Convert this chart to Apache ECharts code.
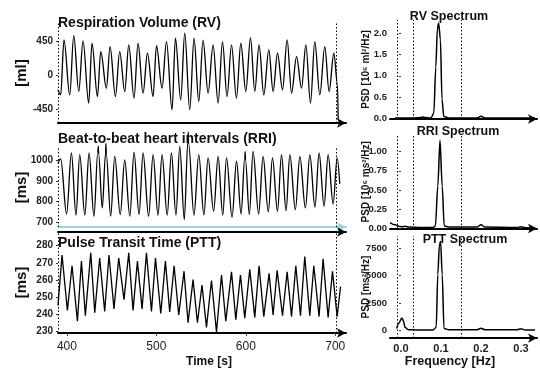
<!DOCTYPE html>
<html><head><meta charset="utf-8">
<script src="https://cdn.jsdelivr.net/npm/echarts@6/dist/echarts.min.js"></script>
<style>html,body{margin:0;padding:0;background:#fff}#c{width:540px;height:369px}</style>
</head><body><div id="c"></div>
<script>
// ---- data ----
const rvTime = [390,393.0,396.7,403.1,407.6,413.2,418.0,424.3,428.0,434.1,437.8,444.1,448.2,454.2,459.0,464.6,469.1,475.0,479.5,485.1,490.0,496.3,500.1,506.3,511.3,517.5,521.3,527.2,531.7,537.3,542.1,547.4,552.2,557.8,563.4,569.0,573.9,579.0,584.0,589.5,594.4,600.0,605.2,610.0,614.8,620.1,625.7,630.5,635.4,641.0,646.2,651.1,656.7,662.3,667.1,672.3,677.1,682.7,688.3,693.1,698.4,702.5,703.2];
const rvValue = [-187,-253,472,-253,528,-209,458,-362,428,-275,318,-165,383,-275,318,-209,405,-297,428,-231,296,-275,397,-165,450,-451,494,-319,560,-451,494,-341,470,-231,405,-362,450,-275,405,-297,428,-209,502,-209,405,-253,340,-209,296,-187,472,-231,252,-165,405,-362,450,-253,383,-209,296,-120,-580];

const rriTime = [390,393,399.6,405,410.1,414.3,420,424.7,430.2,434.5,435,435.4,439.5,443.2,443.6,444,448.9,453.4,459.6,464.6,470.3,475,480.6,485.1,491.3,496.3,501.8,506.3,512.1,516.8,521.9,526.1,531.2,535.2,535.6,536,542,547.4,553.1,557.8,564,569,574.2,578.4,584.6,589.6,594.7,598.8,599.3,599.6,603.9,608.1,614.3,619.3,625.1,629.8,635.4,639.9,645,649.2,655.4,660.4,666.6,671.6,677.3,681.9,687.5,692,697.6,702.1,705];
const rriValue = [985,1006,740,1034,734,1026,734,1034,729,1036,1067,1030,769,1032,1080,1025,729,1018,737,1001,729,1038,737,1034,729,1026,734,1026,734,1034,734,1066,713,1088,1136,1080,734,1026,735,1010,753,1018,734,1010,724,994,740,1010,1040,1000,737,1042,740,1018,750,1010,753,1026,756,1026,761,1018,769,1026,773,1034,777,1026,788,1010,885];

const pttTime = [390,394.5,400.5,405.7,411.7,416.2,420.6,426.6,431.1,436.6,442.2,447.0,452.6,457.9,463.8,469.1,473.9,478.8,484.0,488.9,494.5,499.0,504.9,510.1,514.9,519.8,525.0,530.9,535.4,541.0,545.9,551.0,556.0,561.6,567.2,572.8,577.6,584.0,588.8,594.0,598.8,604.4,610.0,614.8,620.1,626.0,630.5,635.0,641.0,646.2,651.1,655.9,661.1,665.9,671.5,676.0,681.9,686.4,692.0,696.9,702.1,705.9];
const pttValue = [245,274.6,242.2,268.3,235.9,271,239.1,275.9,240.9,272.8,241.6,274.6,243.1,272.8,248.5,275.9,242.2,271,243.1,275.9,241.6,272.8,240.4,271,241.3,268.3,239.5,265.1,235,260.2,235,257,232.3,259.7,229.6,262.9,235.9,264.7,236.8,262.9,237.7,266.2,238.1,268.3,238.6,263.8,239.5,265.6,239.1,264.7,238.6,268.3,239.1,273.7,239.1,268.3,238.6,272.3,238.1,265.1,238.6,256.1];

const rvFreq = [-0.015,0.0,0.03,0.05,0.055,0.06,0.075,0.082,0.087,0.091,0.094,0.0985,0.1025,0.107,0.12,0.19,0.2,0.21,0.25,0.335];
const rvPsd  = [0.005,0.006,0.01,0.02,0.03,0.02,0.01,0.12,1.2,2.1,2.24,1.85,0.45,0.04,0.01,0.01,0.05,0.01,0.008,0.008];
const rriFreq = [-0.0275,-0.015,-0.005,0.002,0.01,0.02,0.05,0.08,0.086,0.092,0.0975,0.103,0.108,0.12,0.19,0.2,0.21,0.29,0.3,0.31,0.335];
const rriPsd  = [0.075,0.045,0.025,0.02,0.025,0.015,0.01,0.01,0.03,0.55,1.15,0.55,0.03,0.015,0.015,0.045,0.015,0.01,0.02,0.008,0.005];
const pttFreq = [-0.011,-0.005,0.002,0.006,0.01,0.018,0.04,0.08,0.088,0.092,0.096,0.099,0.103,0.1075,0.12,0.19,0.2,0.21,0.29,0.3,0.31,0.335];
const pttPsd  = [200,700,1150,900,300,80,60,60,300,5100,7800,8100,5100,200,80,80,220,80,80,170,60,60];

const timeTicks = [400,500,600,700];
const freqTicks = [0,0.1,0.2,0.3];
const rvTicks = [-450,0,450];
const rriTicks = [700,800,900,1000];
const pttTicks = [230,240,250,260,270,280];
const rvPsdTicks = [0,0.5,1.0,1.5,2.0];
const rriPsdTicks = [0,0.25,0.5,0.75,1.0];
const pttPsdTicks = [0,2500,5000,7500];
const windowBounds = [390.5,701.5];
const bandEdges = [-0.005,0.034,0.15];

// ---- chart ----
const FONT = 'Liberation Sans, Arial, sans-serif';
const pairs = (a,b) => a.map((v,i)=>[v,b[i]]);
const dotted = vals => ({silent:true, symbol:'none', label:{show:false},
  lineStyle:{type:[1.5,2], color:'#000', width:1}, data: vals.map(v=>({xAxis:v}))});

function xLine(color){ return {show:true, onZero:false, lineStyle:{color:color||'#000', width:2}, symbol:['none','arrow'], symbolSize:[7,9]}; }
function timeAxis(gi, extra){
  return Object.assign({type:'value', gridIndex:gi, min:390, max:712, axisLine:xLine(),
    axisTick:{show:false}, axisLabel:{show:false}, splitLine:{show:false}}, extra||{});
}
function freqAxis(gi, extra){
  return Object.assign({type:'value', gridIndex:gi, min:-0.0275, max:0.34, axisLine:xLine(),
    axisTick:{show:false}, axisLabel:{show:false}, splitLine:{show:false}}, extra||{});
}
function yAxisDef(gi, min, max, ticks, name, gap, nameSize, fmt, margin, labSize){
  return {type:'value', gridIndex:gi, min:min, max:max, splitLine:{show:false},
    axisLine:{show:false},
    axisTick:{show:true, length:2, customValues:ticks, lineStyle:{color:'#333'}},
    axisLabel:{customValues:ticks, margin:margin, fontFamily:FONT, fontWeight:'bold', fontSize:labSize||10, color:'#222',
      formatter: fmt || (v=>String(v))},
    name:name, nameLocation:'middle', nameRotate:90, nameGap:gap, nameMoveOverlap:false,
    nameTextStyle:{fontFamily:FONT, fontWeight:'bold', fontSize:nameSize, color:'#111'}};
}
const titleStyle = s => ({fontFamily:FONT, fontWeight:'bold', fontSize:s, color:'#111'});

const option = {
  animation:false,
  backgroundColor:'#fff',
  title:[
    {text:'Respiration Volume (RV)', left:58, top:16, padding:0, textStyle:titleStyle(14)},
    {text:'Beat-to-beat heart intervals (RRI)', left:58, top:132, padding:0, textStyle:titleStyle(14)},
    {text:'Pulse Transit Time (PTT)', left:58, top:236, padding:0, textStyle:titleStyle(14)},
    {text:'RV Spectrum', left:449, textAlign:'center', top:10, padding:0, textStyle:titleStyle(12.5)},
    {text:'RRI Spectrum', left:458, textAlign:'center', top:125, padding:0, textStyle:titleStyle(12.5)},
    {text:'PTT Spectrum', left:465, textAlign:'center', top:233, padding:0, textStyle:titleStyle(12.5)}
  ],
  grid:[
    {left:58, top:23, width:288, height:100},
    {left:58, top:148, width:288, height:79},
    {left:58, top:232, width:288, height:109},
    {left:390, top:20, width:147, height:99},
    {left:390, top:135, width:147, height:93.5},
    {left:390, top:236, width:147, height:105}
  ],
  xAxis:[
    timeAxis(0),
    timeAxis(1, {axisLine:xLine('#9fd3dc')}),
    timeAxis(2, {axisLabel:{show:true, customValues:timeTicks, margin:8, fontFamily:FONT, fontSize:12, color:'#222'},
      axisTick:{show:true, length:3, customValues:timeTicks, lineStyle:{color:'#444'}},
      name:'Time [s]', nameLocation:'middle', nameGap:23,
      nameTextStyle:{fontFamily:FONT, fontWeight:'bold', fontSize:12, color:'#111', padding:[0,0,0,14]}}),
    freqAxis(3),
    freqAxis(4),
    freqAxis(5, {axisLabel:{show:true, customValues:freqTicks, margin:5, fontFamily:FONT, fontWeight:'bold', fontSize:11, color:'#222',
      formatter:v=>v.toFixed(1)},
      name:'Frequency [Hz]', nameLocation:'middle', nameGap:15,
      nameTextStyle:{fontFamily:FONT, fontWeight:'bold', fontSize:12.5, color:'#111', padding:[0,27,0,0]}}),
    timeAxis(2, {position:'top'})
  ],
  yAxis:[
    yAxisDef(0, -625, 695, rvTicks, '[ml]', 29, 15, null, 5),
    yAxisDef(1, 677, 1058, rriTicks, '[ms]', 29, 15, null, 5),
    yAxisDef(2, 229, 288, pttTicks, '[ms]', 29, 15, null, 5),
    yAxisDef(3, -0.016, 2.31, rvPsdTicks, 'PSD [10\u2076 ml\u00b2/Hz]', 19, 10, v=>v.toFixed(1), 3, 9.5),
    yAxisDef(4, -0.003, 1.218, rriPsdTicks, 'PSD [10\u2076 ms\u00b2/Hz]', 19, 10, v=>v.toFixed(2), 3, 9.5),
    yAxisDef(5, -681, 8611, pttPsdTicks, 'PSD [ms\u00b2/Hz]', 19, 10, null, 3, 9.5)
  ],
  series:[
    {type:'line', xAxisIndex:0, yAxisIndex:0, data:pairs(rvTime,rvValue), showSymbol:false, smooth:0.35, smoothMonotone:'x',
      clip:false, lineStyle:{color:'#000', width:1.3}, markLine:dotted(windowBounds)},
    {type:'line', xAxisIndex:1, yAxisIndex:1, data:pairs(rriTime,rriValue), showSymbol:false, smooth:0.35, smoothMonotone:'x',
      clip:false, lineStyle:{color:'#000', width:1.3}, markLine:dotted(windowBounds)},
    {type:'line', xAxisIndex:2, yAxisIndex:2, data:pairs(pttTime,pttValue), showSymbol:false,
      clip:false, lineStyle:{color:'#000', width:1.3}, markLine:dotted(windowBounds)},
    {type:'line', xAxisIndex:3, yAxisIndex:3, data:pairs(rvFreq,rvPsd), showSymbol:false, smooth:0.3, smoothMonotone:'x',
      lineStyle:{color:'#000', width:1.5}, markLine:dotted(bandEdges)},
    {type:'line', xAxisIndex:4, yAxisIndex:4, data:pairs(rriFreq,rriPsd), showSymbol:false, smooth:0.3, smoothMonotone:'x',
      lineStyle:{color:'#000', width:1.5}, markLine:dotted(bandEdges)},
    {type:'line', xAxisIndex:5, yAxisIndex:5, data:pairs(pttFreq,pttPsd), showSymbol:false, smooth:0.3, smoothMonotone:'x',
      lineStyle:{color:'#000', width:1.5}, markLine:dotted(bandEdges)}
  ]
};
const chart = echarts.init(document.getElementById('c'), null, {renderer:'canvas'});
chart.setOption(option);
</script></body></html>
